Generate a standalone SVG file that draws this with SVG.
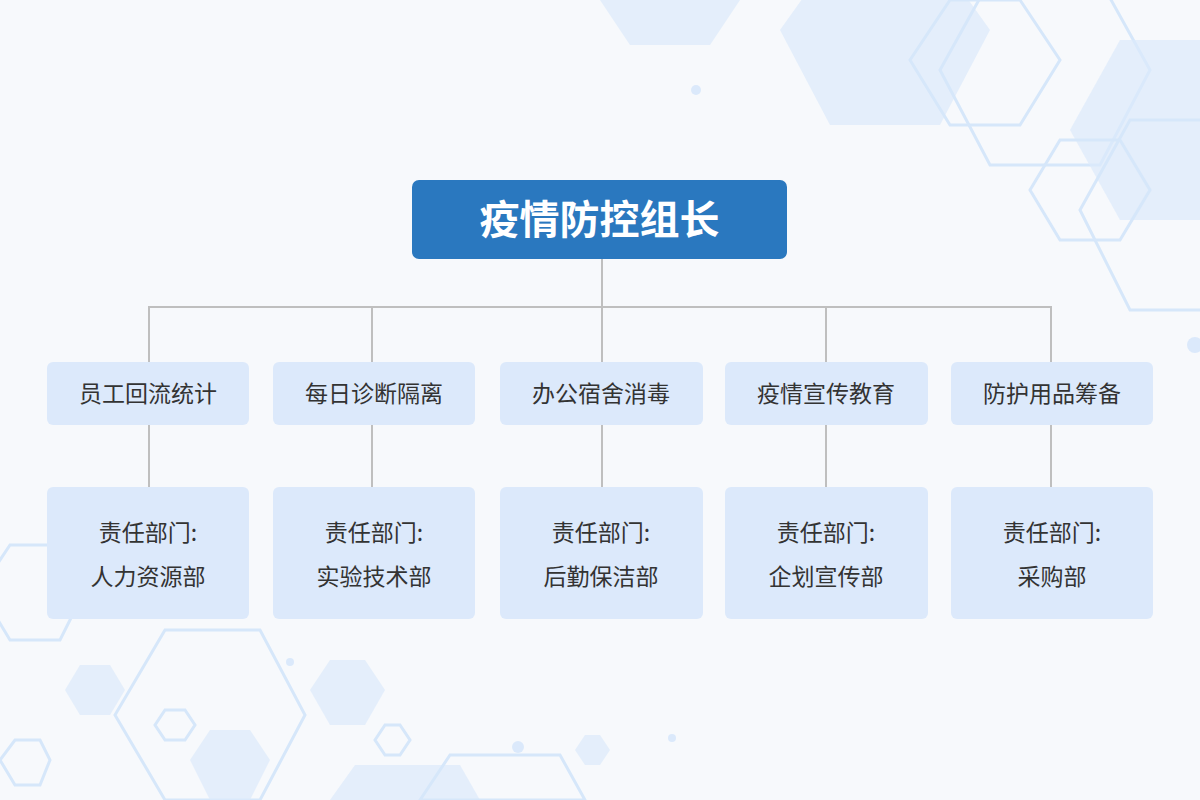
<svg xmlns="http://www.w3.org/2000/svg" width="1200" height="800" viewBox="0 0 1200 800">
<style>
.hf{fill:#dbe9fb;opacity:.7}
.hs{fill:none;stroke:#d6e7fa;stroke-width:3}
.box{fill:#dce9fb}
.t{font-family:"Noto Sans CJK SC",sans-serif;font-size:23px;fill:#333;text-anchor:middle}
.ln{stroke:#bfbfbf;stroke-width:2;fill:none}
</style>
<rect width="1200" height="800" fill="#f7f9fc"/>
<g id="bg">
<polygon class="hf" points="600,0 740,0 710,45 630,45"/>
<polygon class="hf" points="780,30 830,-40 940,-40 990,30 940,125 830,125"/>
<polygon class="hs" points="910,60 950,0 1020,0 1060,60 1020,125 950,125"/>
<polygon class="hs" points="940,70 990,-20 1100,-20 1150,70 1100,165 990,165"/>
<polygon class="hf" points="1070,130 1120,40 1220,40 1220,220 1120,220"/>
<polygon class="hs" points="1030,190 1060,140 1120,140 1150,190 1120,240 1060,240"/>
<polygon class="hs" points="1080,210 1130,120 1230,120 1230,310 1130,310"/>
<circle cx="696" cy="90" r="5" fill="#dbe9fb"/>
<circle cx="1195" cy="345" r="8" fill="#dbe9fb"/>
<polygon class="hs" points="-20,590 10,545 60,545 85,590 60,640 10,640"/>
<polygon class="hs" points="115,715 165,630 260,630 305,715 260,800 165,800"/>
<polygon class="hf" points="65,690 80,665 110,665 125,690 110,715 80,715"/>
<polygon class="hf" points="310,690 330,660 365,660 385,690 365,725 330,725"/>
<polygon class="hs" points="155,725 165,710 185,710 195,725 185,740 165,740"/>
<polygon class="hf" points="190,760 210,730 250,730 270,760 250,800 210,800"/>
<polygon class="hs" points="0,760 15,740 40,740 50,760 40,785 15,785"/>
<polygon class="hs" points="375,740 385,725 400,725 410,740 400,755 385,755"/>
<polygon class="hf" points="330,800 355,765 460,765 480,800"/>
<polygon class="hs" points="420,800 450,755 560,755 585,800"/>
<polygon class="hf" points="575,750 585,735 600,735 610,750 600,765 585,765"/>
<circle cx="518" cy="747" r="6" fill="#dbe9fb"/>
<circle cx="290" cy="662" r="4" fill="#dbe9fb"/>
<circle cx="672" cy="738" r="4" fill="#dbe9fb"/>
</g>
<g id="connectors">
<path class="ln" d="M602,259V307M149,362V307H1051V362M372,307V362M602,307V362M826,307V362"/>
<path class="ln" d="M149,425V487M372,425V487M602,425V487M826,425V487M1051,425V487"/>
</g>
<g id="root"><rect x="412" y="180" width="375" height="79" rx="7" fill="#2a78bf"/>
<text x="599.5" y="234" font-family="Noto Sans CJK SC,sans-serif" font-size="40" font-weight="bold" fill="#fff" text-anchor="middle">疫情防控组长</text></g>
<g id="n1"><rect class="box" x="47" y="362" width="202" height="63" rx="6"/><text class="t" x="148" y="402">员工回流统计</text></g>
<g id="n2"><rect class="box" x="273" y="362" width="202" height="63" rx="6"/><text class="t" x="374" y="402">每日诊断隔离</text></g>
<g id="n3"><rect class="box" x="500" y="362" width="203" height="63" rx="6"/><text class="t" x="601" y="402">办公宿舍消毒</text></g>
<g id="n4"><rect class="box" x="725" y="362" width="203" height="63" rx="6"/><text class="t" x="826" y="402">疫情宣传教育</text></g>
<g id="n5"><rect class="box" x="951" y="362" width="202" height="63" rx="6"/><text class="t" x="1052" y="402">防护用品筹备</text></g>
<g id="d1"><rect class="box" x="47" y="487" width="202" height="132" rx="6"/><text class="t" x="148" y="541">责任部门:</text><text class="t" x="148" y="585">人力资源部</text></g>
<g id="d2"><rect class="box" x="273" y="487" width="202" height="132" rx="6"/><text class="t" x="374" y="541">责任部门:</text><text class="t" x="374" y="585">实验技术部</text></g>
<g id="d3"><rect class="box" x="500" y="487" width="203" height="132" rx="6"/><text class="t" x="601" y="541">责任部门:</text><text class="t" x="601" y="585">后勤保洁部</text></g>
<g id="d4"><rect class="box" x="725" y="487" width="203" height="132" rx="6"/><text class="t" x="826" y="541">责任部门:</text><text class="t" x="826" y="585">企划宣传部</text></g>
<g id="d5"><rect class="box" x="951" y="487" width="202" height="132" rx="6"/><text class="t" x="1052" y="541">责任部门:</text><text class="t" x="1052" y="585">采购部</text></g>
</svg>
